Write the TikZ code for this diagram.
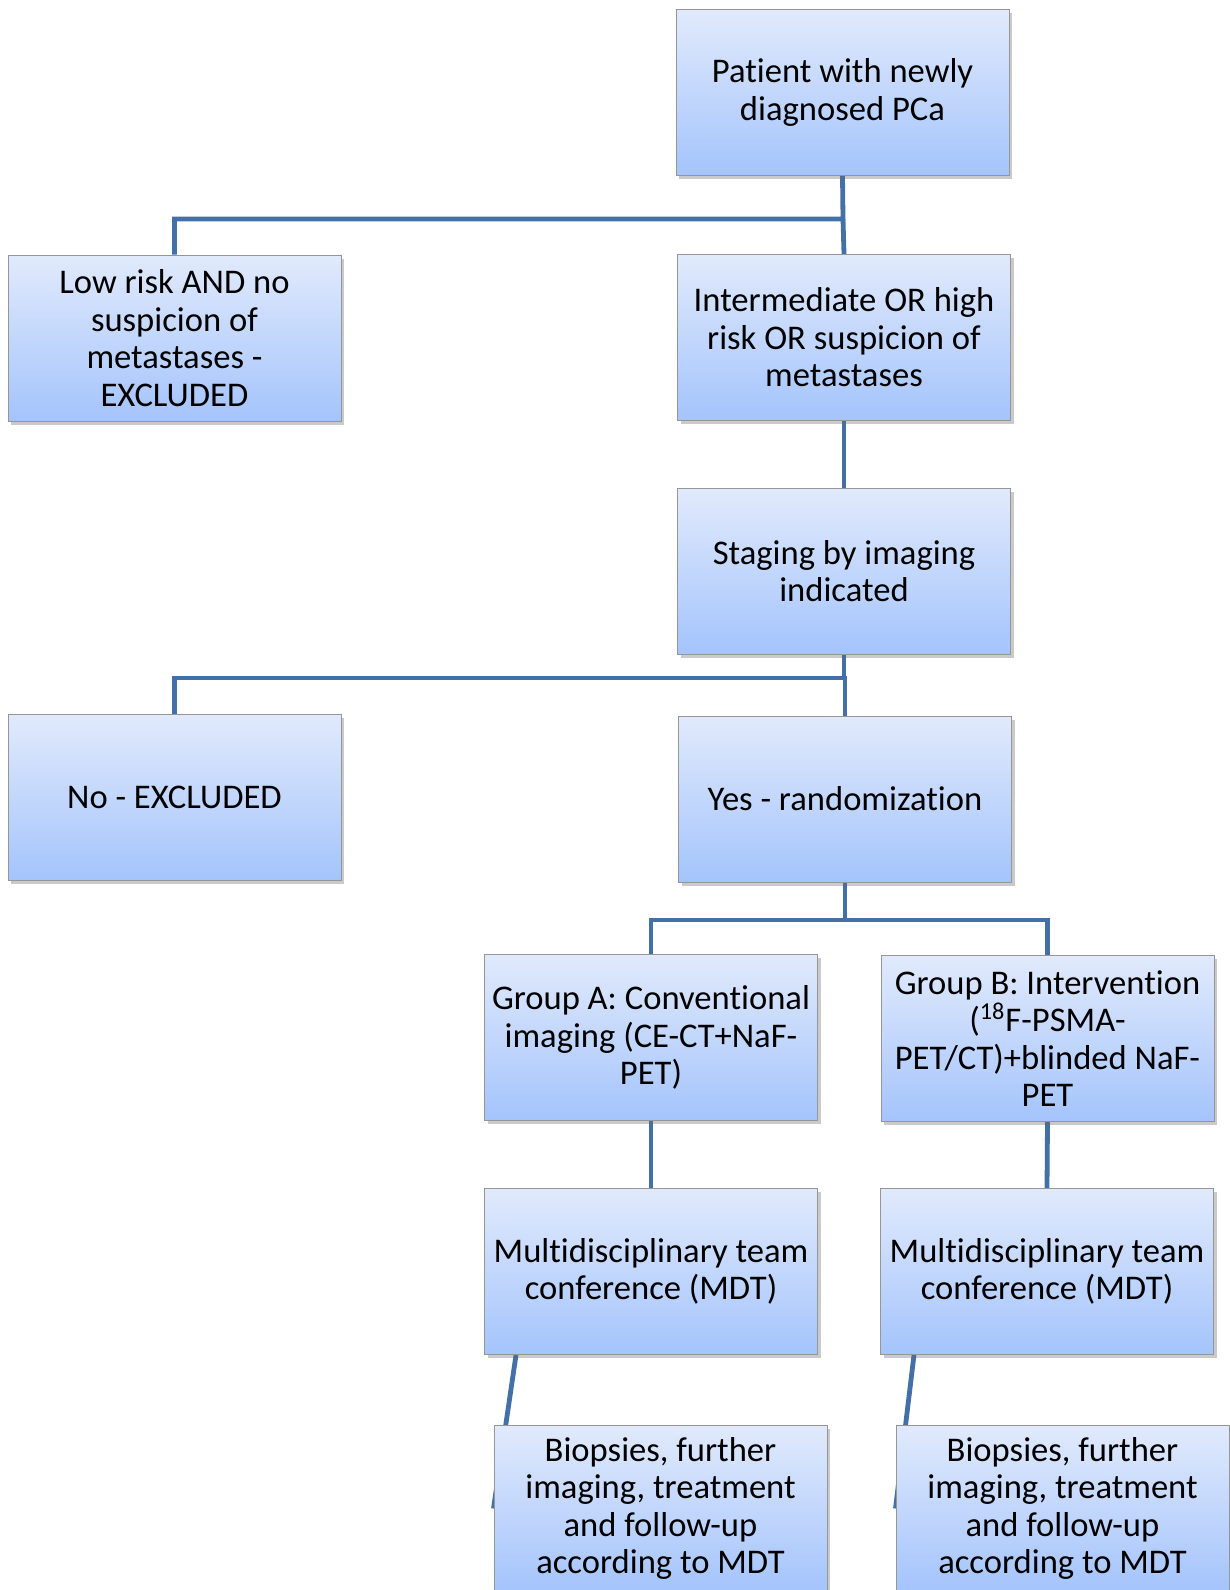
\documentclass[tikz,border=0pt]{standalone}
\usepackage{fontspec}
\setmainfont{Carlito}[Ligatures=NoCommon]
\usetikzlibrary{shadows,backgrounds}

\definecolor{boxtop}{RGB}{225,234,252}
\definecolor{boxbot}{RGB}{164,196,252}
\definecolor{boxline}{RGB}{150,150,150}
\definecolor{linkcol}{RGB}{68,112,168}

\tikzset{every picture/.style={line width=0.75pt}}
\tikzset{
  flowbox/.style={draw=boxline, line width=0.5pt, top color=boxtop, bottom color=boxbot,
    minimum width=166.5pt, minimum height=83pt, inner sep=0pt, align=center,
    font=\fontsize{17.3}{18.75}\selectfont,
    drop shadow={shadow xshift=1.5pt, shadow yshift=-1.8pt, opacity=0.35, fill=black!60}},
  link/.style={draw=linkcol, line width=2.4pt}
}

\begin{document}
\begin{tikzpicture}[x=0.5pt,y=0.5pt,yscale=-1,xscale=1]
\useasboundingbox (0,0) rectangle (1230,1590);

%Shape: Rectangle [patient]
\node[flowbox] (patient) at (842.5,92.5) {Patient with newly\\diagnosed PCa};
%Shape: Rectangle [low risk]
\node[flowbox] (lowrisk) at (174.5,338) {Low risk AND no\\suspicion of\\metastases -\\EXCLUDED};
%Shape: Rectangle [intermediate]
\node[flowbox] (inter) at (844,337.5) {Intermediate OR high\\risk OR suspicion of\\metastases};
%Shape: Rectangle [staging]
\node[flowbox] (staging) at (844,571) {Staging by imaging\\indicated};
%Shape: Rectangle [no]
\node[flowbox] (no) at (174.5,797) {No - EXCLUDED};
%Shape: Rectangle [yes]
\node[flowbox] (yes) at (845,799) {Yes - randomization};
%Shape: Rectangle [group A]
\node[flowbox] (grpA) at (651,1037.5) {Group A: Conventional\\imaging (CE-CT+NaF-\\PET)};
%Shape: Rectangle [group B]
\node[flowbox] (grpB) at (1047.5,1038.5) {Group B: Intervention\\(\textsuperscript{18}F-PSMA-\\PET/CT)+blinded NaF-\\PET};
%Shape: Rectangle [MDT A]
\node[flowbox] (mdtA) at (651,1271.5) {Multidisciplinary team\\conference (MDT)};
%Shape: Rectangle [MDT B]
\node[flowbox] (mdtB) at (1047,1271.5) {Multidisciplinary team\\conference (MDT)};
%Shape: Rectangle [biopsies A]
\node[flowbox] (bioA) at (660.5,1508.5) {Biopsies, further\\imaging, treatment\\and follow-up\\according to MDT};
%Shape: Rectangle [biopsies B]
\node[flowbox] (bioB) at (1062.5,1508.5) {Biopsies, further\\imaging, treatment\\and follow-up\\according to MDT};

% Elbow joints
\coordinate (j1) at (843,219);
\coordinate (j2) at (844,678);
\coordinate (j3) at (845,920);

\begin{pgfonlayer}{background}
%Straight Lines [connectors]
\draw[link] (patient.south) -- (j1) -| (lowrisk.north);
\draw[link] (j1) -- (inter.north);
\draw[link] (inter.south) -- (staging.north);
\draw[link] (staging.south) -- (j2) -| (no.north);
\draw[link] (j2) -| (yes.north);
\draw[link] (yes.south) -- (j3) -| (grpA.north);
\draw[link] (j3) -| (grpB.north);
\draw[link] (grpA.south) -- (mdtA.north);
\draw[link] (grpB.south) -- (mdtB.north);
\draw[link] (mdtA.south west) ++(32,0) -- (bioA.west);
\draw[link] (mdtB.south west) ++(34,0) -- (bioB.west);
\end{pgfonlayer}

\end{tikzpicture}
\end{document}
